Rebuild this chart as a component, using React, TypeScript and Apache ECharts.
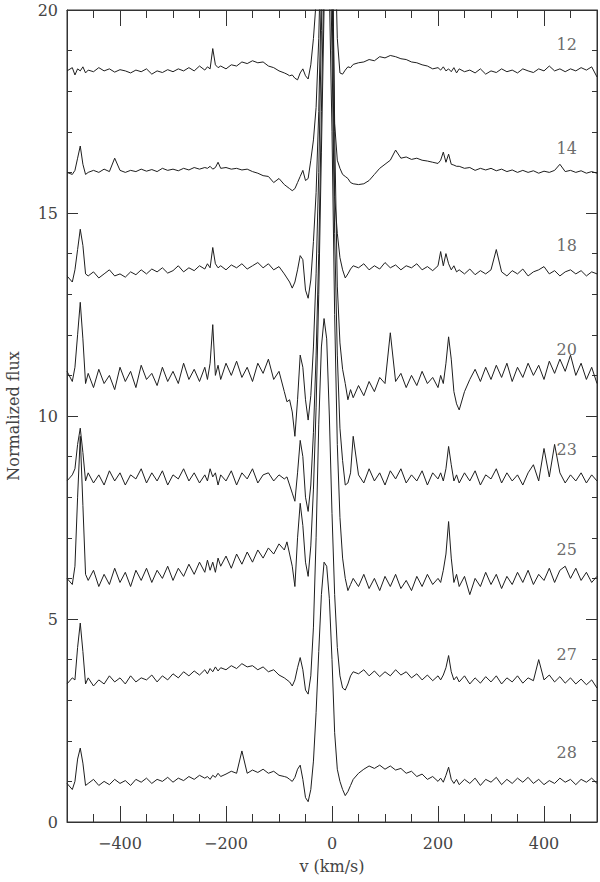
import React, { useEffect, useRef } from 'react';
import * as echarts from 'echarts';

// shared velocity grid (km/s)
const velocity = [
  -500, -490,
  -485, -480, -475, -470, -465,
  -460, -450, -440, -430, -420, -410, -400, -390, -380, -370, -360, -350, -340, -330, -320, -310, -300, -290, -280, -270, -260, -250, -240,
  -235, -230, -225, -220, -215,
  -210, -200, -190, -180, -170, -160, -150, -140, -130, -120, -110, -100, -90,
  -85, -80, -75, -70, -65, -60, -55, -50, -45, -40, -35, -30, -25, -20, -15, -10, -5, 0, 5, 10, 15, 20, 25, 30, 35, 40,
  50, 60, 70, 80, 90, 100, 110, 120, 130, 140, 150, 160, 170, 180, 190, 200,
  205, 210, 215, 220, 225, 230, 235,
  240, 250, 260, 270, 280, 290, 300, 310, 320, 330, 340, 350, 360, 370, 380, 390, 400, 410, 420, 430, 440, 450, 460, 470, 480, 490, 500,
];

const flux12 = [
  18.50, 18.58,
  18.40, 18.55, 18.50, 18.60, 18.45,
  18.52, 18.48, 18.58, 18.50, 18.55, 18.47, 18.53, 18.50, 18.45, 18.52, 18.48, 18.55, 18.42, 18.50, 18.46, 18.53, 18.48, 18.55, 18.50, 18.58, 18.50, 18.62, 18.52,
  18.60, 18.55, 19.05, 18.65, 18.58,
  18.62, 18.55, 18.65, 18.62, 18.72, 18.68, 18.75, 18.70, 18.72, 18.62, 18.58, 18.50, 18.45,
  18.42, 18.38, 18.40, 18.32, 18.28, 18.45, 18.55, 18.38, 18.30, 18.65, 19.3, 20.2, 22, 25, 28, 30, 29, 26, 22, 19.3, 18.45, 18.42, 18.52, 18.6, 18.58, 18.66,
  18.70, 18.72, 18.78, 18.75, 18.85, 18.82, 18.88, 18.85, 18.80, 18.78, 18.72, 18.70, 18.65, 18.62, 18.55, 18.58,
  18.52, 18.60, 18.50, 18.55, 18.48, 18.58, 18.45,
  18.55, 18.48, 18.52, 18.45, 18.55, 18.42, 18.50, 18.46, 18.55, 18.48, 18.52, 18.45, 18.55, 18.50, 18.46, 18.55, 18.50, 18.62, 18.50, 18.55, 18.48, 18.55, 18.50, 18.58, 18.52, 18.60, 18.35,
];

const flux14 = [
  16.00, 15.95,
  16.05, 16.35, 16.65, 16.20, 15.95,
  16.00, 16.05, 16.00, 16.08, 16.02, 16.35, 16.05, 16.00, 16.05, 16.02, 16.08, 16.03, 16.07, 16.02, 16.10, 16.05, 16.08, 16.04, 16.10, 16.06, 16.12, 16.08, 16.12,
  16.10, 16.15, 16.08, 16.12, 16.25,
  16.10, 16.12, 16.08, 16.10, 16.06, 16.08, 16.02, 15.98, 15.92, 15.90, 15.75, 15.85, 15.70,
  15.65, 15.60, 15.55, 15.60, 15.75, 15.90, 16.05, 15.80, 15.85, 16.30, 16.80, 17.60, 19.3, 22, 26, 28, 27, 22.5, 17.2, 16.3, 16.10, 15.95, 15.90, 15.85, 15.75, 15.72,
  15.70, 15.72, 15.80, 15.95, 16.10, 16.20, 16.30, 16.55, 16.35, 16.38, 16.32, 16.35, 16.30, 16.28, 16.25, 16.22,
  16.30, 16.50, 16.25, 16.45, 16.20, 16.18, 16.15,
  16.15, 16.10, 16.12, 16.05, 16.10, 16.06, 16.10, 16.04, 16.08, 16.02, 16.06, 16.00, 16.05, 16.00, 16.04, 15.98, 16.03, 16.00, 16.05, 16.20, 16.02, 16.05, 16.00, 16.04, 15.98, 16.02, 15.98,
];

const flux18 = [
  13.45, 13.30,
  13.60, 14.10, 14.60, 14.20, 13.50,
  13.45, 13.55, 13.40, 13.50, 13.60, 13.45, 13.50, 13.42, 13.55, 13.48, 13.60, 13.50, 13.62, 13.55, 13.65, 13.52, 13.58, 13.70, 13.55, 13.65, 13.58, 13.70, 13.62,
  13.75, 13.65, 14.15, 13.75, 13.65,
  13.70, 13.60, 13.72, 13.65, 13.75, 13.62, 13.70, 13.78, 13.65, 13.75, 13.60, 13.68, 13.50,
  13.40, 13.30, 13.15, 13.30, 13.60, 13.95, 13.85, 13.10, 12.90, 13.35, 14.30, 15.50, 17.5, 20.5, 24, 27, 25, 20.5, 15.4, 14.5, 13.90, 13.60, 13.40, 13.50, 13.62, 13.70,
  13.65, 13.75, 13.60, 13.70, 13.62, 13.78, 13.65, 13.72, 13.60, 13.70, 13.65, 13.75, 13.60, 13.68, 13.58, 13.70,
  14.05, 13.70, 14.00, 13.75, 13.60, 13.70, 13.55,
  13.60, 13.50, 13.62, 13.48, 13.58, 13.50, 13.60, 14.10, 13.55, 13.45, 13.58, 13.50, 13.62, 13.45, 13.55, 13.60, 13.68, 13.50, 13.58, 13.45, 13.55, 13.60, 13.50, 13.58, 13.45, 13.55, 13.50,
];

const flux20 = [
  11.10, 10.85,
  11.20, 12.00, 12.80, 11.90, 10.80,
  11.05, 10.70, 11.15, 10.80, 11.00, 10.65, 11.20, 10.85, 11.10, 10.70, 11.25, 10.90, 11.05, 10.75, 11.20, 10.85, 11.10, 10.80, 11.30, 10.90, 11.15, 10.85, 11.20,
  10.90, 11.30, 12.25, 11.00, 11.25,
  10.90, 11.30, 11.00, 11.35, 10.95, 11.20, 10.85, 11.30, 11.05, 11.40, 10.90, 11.10, 10.60,
  10.35, 10.40, 10.10, 9.50, 10.40, 11.50, 11.20, 10.40, 9.90, 10.50, 11.70, 13.50, 16, 19.5, 23, 26, 24, 22, 17, 13.2, 11.80, 11.15, 10.80, 10.40, 10.65, 10.45,
  10.75, 10.50, 10.85, 10.60, 10.95, 10.80, 12.05, 10.85, 11.05, 10.70, 11.00, 10.75, 11.10, 10.80, 10.95, 10.70,
  11.00, 10.80, 11.30, 11.95, 11.40, 10.60, 10.30,
  10.15, 10.60, 10.90, 11.15, 10.85, 11.20, 10.90, 11.25, 10.95, 11.30, 10.85, 11.20, 10.95, 11.30, 11.00, 11.25, 10.90, 11.35, 11.05, 11.40, 11.10, 11.50, 11.00, 11.30, 10.90, 11.20, 10.80,
];

const flux23 = [
  8.40, 8.55,
  8.70, 9.30, 9.70, 9.10, 8.40,
  8.60, 8.35, 8.55, 8.30, 8.65, 8.40, 8.60, 8.30, 8.55, 8.45, 8.70, 8.35, 8.60, 8.40, 8.65, 8.30, 8.55, 8.45, 8.70, 8.40, 8.60, 8.35, 8.55,
  8.40, 8.70, 8.50, 8.60, 8.30,
  8.55, 8.40, 8.65, 8.30, 8.60, 8.45, 8.70, 8.35, 8.55, 8.60, 8.40, 8.55, 8.45,
  8.50, 8.30, 8.10, 7.90, 8.60, 9.40, 9.00, 8.00, 7.65, 8.30, 9.60, 11.50, 14, 17.5, 21, 24, 22.5, 19, 14.5, 11.5, 9.70, 8.90, 8.30, 8.35, 8.60, 9.50,
  8.55, 8.35, 8.70, 8.40, 8.60, 8.30, 8.65, 8.45, 8.70, 8.35, 8.55, 8.40, 8.65, 8.30, 8.60, 8.45,
  8.60, 8.40, 8.70, 9.25, 8.80, 8.40, 8.55,
  8.35, 8.60, 8.40, 8.65, 8.30, 8.55, 8.45, 8.70, 8.35, 8.60, 8.40, 8.55, 8.30, 8.60, 8.80, 8.40, 9.20, 8.50, 9.30, 8.60, 8.35, 8.55, 8.40, 8.60, 8.35, 8.55, 8.40,
];

const flux25 = [
  6.00, 5.85,
  6.30, 8.00, 9.50, 7.80, 6.10,
  5.95, 6.20, 5.80, 6.10, 5.85, 6.25, 5.90, 6.15, 5.80, 6.20, 5.95, 6.25, 5.90, 6.20, 6.00, 6.30, 5.95, 6.25, 6.05, 6.35, 6.10, 6.40, 6.15,
  6.45, 6.20, 6.40, 6.15, 6.50,
  6.30, 6.55, 6.25, 6.60, 6.35, 6.65, 6.40, 6.70, 6.50, 6.75, 6.60, 6.85, 6.70,
  6.90, 6.60, 6.30, 5.80, 7.00, 7.85, 7.30, 6.40, 6.05, 6.80, 8.20, 10.20, 13, 16.5, 20, 22, 20.5, 17, 12.5, 9.3, 7.50, 6.50, 6.00, 5.70, 5.85, 6.00,
  5.80, 6.10, 5.75, 6.00, 5.70, 6.05, 5.80, 6.10, 5.75, 5.95, 5.70, 6.05, 5.80, 6.10, 5.85, 6.00,
  5.90, 6.20, 6.60, 7.40, 6.50, 5.90, 6.10,
  5.80, 6.05, 5.60, 6.00, 5.80, 6.15, 5.85, 6.10, 5.75, 6.05, 5.85, 6.15, 5.90, 6.20, 5.85, 6.10, 5.95, 6.25, 5.90, 6.20, 6.30, 6.00, 6.25, 5.95, 6.15, 5.90, 6.05,
];

const flux27 = [
  3.40, 3.55,
  3.50, 4.30, 4.90, 4.20, 3.40,
  3.55, 3.35, 3.50, 3.40, 3.60, 3.45, 3.55, 3.40, 3.60, 3.45, 3.55, 3.50, 3.62, 3.45, 3.60, 3.50, 3.65, 3.55, 3.70, 3.60, 3.72, 3.62, 3.75,
  3.65, 3.78, 3.70, 3.82, 3.72,
  3.80, 3.75, 3.85, 3.78, 3.90, 3.82, 3.85, 3.75, 3.82, 3.70, 3.75, 3.62, 3.55,
  3.50, 3.45, 3.35, 3.50, 3.80, 4.05, 3.75, 3.25, 3.15, 3.60, 4.80, 7.00, 9.80, 11.70, 12.40, 11.90, 10.00, 7.60, 5.60, 4.30, 3.60, 3.30, 3.25, 3.40, 3.60, 3.70,
  3.65, 3.75, 3.60, 3.72, 3.58, 3.70, 3.60, 3.75, 3.62, 3.70, 3.55, 3.65, 3.50, 3.62, 3.48, 3.60,
  3.50, 3.62, 3.80, 4.10, 3.70, 3.50, 3.58,
  3.45, 3.60, 3.40, 3.55, 3.42, 3.58, 3.45, 3.60, 3.40, 3.55, 3.45, 3.60, 3.42, 3.55, 3.48, 4.00, 3.50, 3.62, 3.45, 3.58, 3.42, 3.55, 3.40, 3.52, 3.38, 3.50, 3.30,
];

const flux28 = [
  0.95, 0.80,
  1.00, 1.55, 1.82, 1.45, 0.90,
  0.95, 1.05, 0.90, 1.00, 0.92, 1.05, 0.95, 1.02, 0.90, 1.05, 0.98, 1.08, 0.95, 1.05, 1.00, 1.10, 0.98, 1.08, 1.02, 1.12, 1.05, 1.15, 1.08,
  1.12, 1.05, 1.15, 1.10, 1.20,
  1.12, 1.18, 1.25, 1.20, 1.75, 1.20, 1.28, 1.22, 1.30, 1.20, 1.25, 1.15, 1.12,
  1.10, 1.05, 1.00, 1.10, 1.30, 1.40, 1.05, 0.60, 0.50, 0.80, 1.50, 2.70, 4.20, 5.60, 6.40, 6.30, 5.50, 4.00, 2.20, 1.30, 1.00, 0.80, 0.65, 0.75, 0.90, 1.05,
  1.20, 1.30, 1.38, 1.32, 1.40, 1.30, 1.38, 1.28, 1.32, 1.20, 1.25, 1.12, 1.18, 1.05, 1.12, 1.00,
  1.08, 0.98, 1.15, 1.35, 1.05, 0.95, 1.05,
  0.92, 1.05, 0.95, 1.08, 0.90, 1.05, 0.98, 1.10, 0.92, 1.05, 0.95, 1.08, 0.98, 1.10, 0.95, 1.05, 0.92, 1.02, 0.95, 1.08, 0.98, 1.05, 0.92, 1.05, 0.98, 1.08, 0.95,
];

const spectrumNames = ['12', '14', '18', '20', '23', '25', '27', '28'];
const spectra = [flux12, flux14, flux18, flux20, flux23, flux25, flux27, flux28];
const labelVelocity = 443;
const labelFlux = [19.14, 16.6, 14.2, 11.65, 9.18, 6.7, 4.12, 1.72];

const xMajorTicks = [-400, -200, 0, 200, 400];
const xMinorTicks = [-450, -350, -300, -250, -150, -100, -50, 50, 100, 150, 250, 300, 350, 450];
const yMajorTicks = [0, 5, 10, 15, 20];
const yMinorTicks = [1, 2, 3, 4, 6, 7, 8, 9, 11, 12, 13, 14, 16, 17, 18, 19];

const FONT = 'DejaVu Serif';
const INK = '#333333';
const TEXT = '#444444';

function xAxisDef(position: string, ticks: number[], len: number, primary: boolean, labels: boolean) {
  const ax: any = {
    type: 'value',
    position,
    min: -500,
    max: 500,
    axisLine: { show: primary, onZero: false, lineStyle: { color: INK, width: 1 } },
    axisTick: { show: true, inside: true, length: len, customValues: ticks, lineStyle: { color: INK, width: 1 } },
    axisLabel: {
      show: labels,
      customValues: xMajorTicks,
      margin: 13,
      fontFamily: FONT,
      fontSize: 16,
      color: TEXT,
      formatter: (v: number) => (v < 0 ? '\u2212' + Math.abs(v) : String(v)),
    },
    splitLine: { show: false },
  };
  if (labels) {
    ax.name = 'v (km/s)';
    ax.nameLocation = 'middle';
    ax.nameGap = 36;
    ax.nameTextStyle = { fontFamily: FONT, fontSize: 16, color: TEXT };
  }
  return ax;
}

function yAxisDef(position: string, ticks: number[], len: number, primary: boolean, labels: boolean) {
  const ax: any = {
    type: 'value',
    position,
    min: 0,
    max: 20,
    axisLine: { show: primary, onZero: false, lineStyle: { color: INK, width: 1 } },
    axisTick: { show: true, inside: true, length: len, customValues: ticks, lineStyle: { color: INK, width: 1 } },
    axisLabel: { show: labels, customValues: yMajorTicks, margin: 9, fontFamily: FONT, fontSize: 16, color: TEXT },
    splitLine: { show: false },
  };
  if (labels) {
    ax.name = 'Normalized flux';
    ax.nameLocation = 'middle';
    ax.nameGap = 46;
    ax.nameTextStyle = { fontFamily: FONT, fontSize: 16, color: TEXT };
  }
  return ax;
}

function SpectraChart() {
  const ref = useRef<HTMLDivElement>(null);
  useEffect(() => {
    if (!ref.current) return;
    const chart = echarts.init(ref.current, undefined, { renderer: 'svg' });
    const lineSeries = spectra.map((flux, k) => ({
      type: 'line',
      xAxisIndex: 0,
      yAxisIndex: 0,
      data: velocity.map((v, i) => [v, flux[i]]),
      showSymbol: false,
      symbol: 'none',
      clip: true,
      silent: true,
      lineStyle: { color: '#1e1e1e', width: 1 },
    }));
    const labelSeries = {
      type: 'scatter',
      xAxisIndex: 0,
      yAxisIndex: 0,
      symbolSize: 1,
      silent: true,
      itemStyle: { color: 'rgba(0,0,0,0)' },
      data: spectrumNames.map((n, k) => ({ value: [labelVelocity, labelFlux[k]], name: n })),
      label: {
        show: true,
        position: 'inside',
        formatter: (p: any) => p.name,
        fontFamily: FONT,
        fontSize: 16,
        color: TEXT,
      },
    };
    chart.setOption({
      animation: false,
      grid: {
        left: 67, right: 3, top: 10, bottom: 60,
        show: true, borderColor: INK, borderWidth: 1,
        outerBoundsMode: 'none',
      },
      xAxis: [
        xAxisDef('bottom', xMajorTicks, 16, true, true),
        xAxisDef('bottom', xMinorTicks, 8, false, false),
        xAxisDef('top', xMajorTicks, 16, true, false),
        xAxisDef('top', xMinorTicks, 8, false, false),
      ],
      yAxis: [
        yAxisDef('left', yMajorTicks, 11, true, true),
        yAxisDef('left', yMinorTicks, 5, false, false),
        yAxisDef('right', yMajorTicks, 11, true, false),
        yAxisDef('right', yMinorTicks, 5, false, false),
      ],
      series: [...lineSeries, labelSeries],
    });
    return () => chart.dispose();
  }, []);
  return <div ref={ref} style={{ width: 600, height: 882, display: 'inline-block' }} />;
}

export default function App() {
  return (
    <div style={{ position: 'absolute', left: 0, top: 0, width: 600, height: 882 }}>
      <SpectraChart />
    </div>
  );
}
